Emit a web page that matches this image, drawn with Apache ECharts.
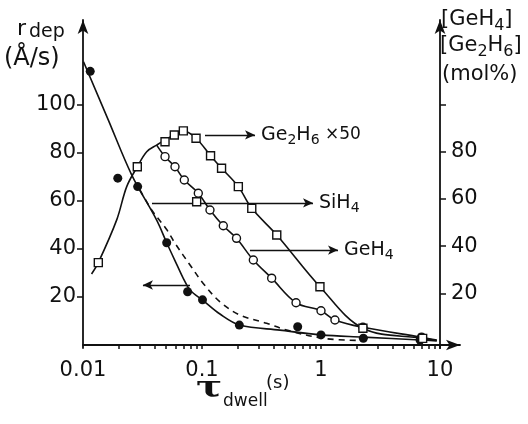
<!DOCTYPE html>
<html>
<head>
<meta charset="utf-8">
<script src="https://cdn.jsdelivr.net/npm/echarts@6/dist/echarts.min.js"></script>
<style>
html,body{margin:0;padding:0;background:#fff;}
#c{width:528px;height:424px;}
</style>
</head>
<body>
<div id="c"></div>
<script>
// ---- data ----
const xLabelValues = [0.01, 0.1, 1, 10];
const xTickValues = [0.02,0.03,0.04,0.05,0.06,0.07,0.08,0.09,0.1,0.2,0.3,0.4,0.5,0.6,0.7,0.8,0.9,1,2,3,4,5,6,7,8,9,10];
const leftLabelValues = [20, 40, 60, 80, 100];
const rightLabelValues = [20, 40, 60, 80];
const rightTickValues = [20, 40, 60, 80, 100];

// deposition rate (filled dots, left axis)
const rdepTau = [0.0115, 0.0196, 0.0288, 0.0505, 0.0757, 0.101, 0.206, 0.637, 1.0, 2.27, 6.8];
const rdepVal = [114, 69.5, 66, 42.6, 22.2, 18.8, 8.3, 7.6, 4.2, 2.8, 2.1];
const rdepFitTau = [0.0101, 0.0163, 0.0257, 0.0416, 0.0505, 0.0613, 0.0696, 0.0793, 0.1024, 0.1416, 0.208, 0.452, 1.01, 2.25, 6.79, 9.4];
const rdepFitVal = [118, 93.8, 70.8, 52, 42.6, 33.6, 27.8, 22.9, 18.5, 12.9, 8.3, 6.2, 4.2, 3.3, 2.1, 1.7];

// Ge2H6 x50 (open squares, right axis)
const ge2h6Tau = [0.01345, 0.0286, 0.0489, 0.0585, 0.0697, 0.0891, 0.118, 0.146, 0.202, 0.262, 0.425, 0.98, 2.25, 7.15, 0.0902];
const ge2h6Val = [33, 73.6, 84.2, 87.1, 88.8, 85.7, 78.3, 73, 65.2, 56, 44.7, 22.8, 5.2, 0.9, 58.8];
const ge2h6FitTau = [0.0118, 0.01345, 0.0192, 0.0233, 0.0286, 0.0343, 0.0416, 0.0489, 0.0585, 0.0697, 0.0891, 0.118, 0.146, 0.202, 0.262, 0.425, 0.98, 2.25, 7.15, 9.4];
const ge2h6FitVal = [28.2, 33, 51.1, 65.2, 73.6, 80, 82.8, 85, 87.1, 88.8, 85.7, 78.3, 73, 65.2, 56, 44.7, 22.8, 5.2, 0.9, 0];

// GeH4 (open circles, right axis)
const geh4Tau = [0.0489, 0.0593, 0.071, 0.0931, 0.1167, 0.151, 0.195, 0.27, 0.385, 0.617, 1.0, 1.31, 2.25, 7.0];
const geh4Val = [77.9, 73.6, 68, 62.4, 55.3, 48.6, 43.3, 34.1, 26.4, 16, 12.6, 8.7, 5.6, 1.4];
const geh4FitTau = [0.0416, 0.0489, 0.0593, 0.071, 0.0931, 0.1167, 0.151, 0.195, 0.27, 0.385, 0.617, 1.0, 1.31, 2.25, 7.0, 9.4];
const geh4FitVal = [82.8, 77.9, 73.6, 68, 62.4, 55.3, 48.6, 43.3, 34.1, 26.4, 16, 12.6, 8.7, 5.6, 1.4, 0.2];

// SiH4 (dashed, right axis)
const sih4Tau = [0.0301, 0.0378, 0.0505, 0.0593, 0.0793, 0.1024, 0.1416, 0.208, 0.349, 0.515, 1.045, 2.25];
const sih4Val = [63.8, 55.3, 47, 41.2, 32, 24.2, 16.4, 10.8, 7.3, 4.45, 0.9, 0];

// annotation arrows: [tauStart, tauEnd, value]
const arrowGe2h6 = [0.106, 0.279, 87.1];
const arrowSih4 = [0.038, 0.857, 58.3];
const arrowGeh4 = [0.253, 1.39, 38.3];
const arrowRdep = [0.0793, 0.0319, 25];

// ---- chart ----
const FONT = 'DejaVu Sans';
const INK = '#111';
const zip = (a, b) => a.map((v, i) => [v, b[i]]);
const richSub = {
  n: {fontSize: 19, fontFamily: FONT, color: INK},
  s: {fontSize: 14, fontFamily: FONT, color: INK, padding: [11, 0, 0, 0]},
  m: {fontSize: 17, fontFamily: FONT, color: INK}
};
const richSubG = {
  n: {fontSize: 21, fontFamily: FONT, fill: INK, color: INK},
  s: {fontSize: 16, fontFamily: FONT, fill: INK, color: INK, padding: [12, 0, 0, 0]}
};
function arrow(a, yIdxLabel) {
  return {
    silent: true,
    symbol: ['none', 'arrow'],
    symbolSize: [7, 10],
    lineStyle: {color: INK, width: 1.4, type: 'solid'},
    label: yIdxLabel ? {show: true, position: 'end', distance: 6, formatter: yIdxLabel, rich: richSub} : {show: false},
    data: [[{coord: [a[0], a[2]]}, {coord: [a[1], a[2]]}]]
  };
}
const lineBase = {type: 'line', showSymbol: false, smooth: 0.35, silent: true,
  lineStyle: {color: INK, width: 1.6}};

const chart = echarts.init(document.getElementById('c'));
chart.setOption({
  animation: false,
  backgroundColor: '#fff',
  grid: {left: 83, right: 68, top: 20, bottom: 76, containLabel: false, outerBoundsMode: 'none'},
  xAxis: {
    type: 'log', min: 0.01, max: 14.73, logBase: 10,
    axisLine: {lineStyle: {color: INK, width: 1.8}, symbol: ['none', 'arrow'], symbolSize: [8, 14]},
    axisTick: {show: true, customValues: xTickValues, length: 4, lineStyle: {color: INK, width: 1.5}},
    minorTick: {show: false},
    splitLine: {show: false},
    axisLabel: {customValues: xLabelValues, margin: 12, fontSize: 21, fontFamily: FONT, color: INK,
      formatter: v => String(Number(Number(v).toPrecision(3)))}
  },
  yAxis: [{
    type: 'value', position: 'left', min: -1.25, max: 135.4,
    axisLine: {show: true, lineStyle: {color: INK, width: 1.8}, symbol: ['none', 'arrow'], symbolSize: [8, 14]},
    axisTick: {show: true, customValues: leftLabelValues, length: 6, lineStyle: {color: INK, width: 1.5}},
    splitLine: {show: false},
    axisLabel: {customValues: leftLabelValues, margin: 7, fontSize: 21, fontFamily: FONT, color: INK}
  }, {
    type: 'value', position: 'right', offset: -20, min: -3.18, max: 135.8,
    axisLine: {show: true, lineStyle: {color: INK, width: 1.8}, symbol: ['none', 'arrow'], symbolSize: [8, 14]},
    axisTick: {show: true, customValues: rightTickValues, length: 6, lineStyle: {color: INK, width: 1.5}},
    splitLine: {show: false},
    axisLabel: {customValues: rightLabelValues, margin: 11, fontSize: 21, fontFamily: FONT, color: INK}
  }],
  graphic: [
    {type: 'text', left: 17, top: 18, style: {text: 'r', fontSize: 22, fontFamily: FONT, fill: INK}},
    {type: 'text', left: 29, top: 23, style: {text: 'dep', fontSize: 19, fontFamily: FONT, fill: INK}},
    {type: 'text', left: 4, top: 47, style: {text: '(Å/s)', fontSize: 24, fontFamily: FONT, fill: INK}},
    {type: 'text', left: 441, top: 9, style: {text: '{n|[GeH}{s|4}{n|]}', rich: richSubG}},
    {type: 'text', left: 440, top: 35, style: {text: '{n|[Ge}{s|2}{n|H}{s|6}{n|]}', rich: richSubG}},
    {type: 'text', left: 442, top: 64, style: {text: '(mol%)', fontSize: 21, fontFamily: FONT, fill: INK}},
    {type: 'text', left: 196, top: 374, scaleX: 1.3, style: {text: 'τ', fontSize: 30, fontWeight: 'bold', fontFamily: 'DejaVu Serif', fill: INK}},
    {type: 'text', left: 223, top: 393, style: {text: 'dwell', fontSize: 17, fontFamily: FONT, fill: INK}},
    {type: 'text', left: 266, top: 374, style: {text: '(s)', fontSize: 18, fontFamily: FONT, fill: INK}}
  ],
  series: [
    Object.assign({}, lineBase, {name: 'rdep fit', yAxisIndex: 0, data: zip(rdepFitTau, rdepFitVal),
      markLine: arrow(arrowRdep, null)}),
    Object.assign({}, lineBase, {name: 'Ge2H6 fit', yAxisIndex: 1, data: zip(ge2h6FitTau, ge2h6FitVal),
      markLine: arrow(arrowGe2h6, '{n|Ge}{s|2}{n|H}{s|6}{m| ×50}')}),
    Object.assign({}, lineBase, {name: 'GeH4 fit', yAxisIndex: 1, data: zip(geh4FitTau, geh4FitVal),
      markLine: arrow(arrowGeh4, '{n|GeH}{s|4}')}),
    Object.assign({}, lineBase, {name: 'SiH4', yAxisIndex: 1, data: zip(sih4Tau, sih4Val),
      lineStyle: {color: INK, width: 1.6, type: [6, 5]},
      markLine: arrow(arrowSih4, '{n|SiH}{s|4}')}),
    {type: 'scatter', name: 'rdep', yAxisIndex: 0, data: zip(rdepTau, rdepVal), symbol: 'circle', symbolSize: 9,
      itemStyle: {color: INK, opacity: 1}, silent: true, z: 5},
    {type: 'scatter', name: 'GeH4', yAxisIndex: 1, data: zip(geh4Tau, geh4Val), symbol: 'circle', symbolSize: 8,
      itemStyle: {color: '#fff', borderColor: INK, borderWidth: 1.4, opacity: 1}, silent: true, z: 5},
    {type: 'scatter', name: 'Ge2H6', yAxisIndex: 1, data: zip(ge2h6Tau, ge2h6Val), symbol: 'rect', symbolSize: 8,
      itemStyle: {color: '#fff', borderColor: INK, borderWidth: 1.4, opacity: 1}, silent: true, z: 5}
  ]
});
</script>
</body>
</html>
